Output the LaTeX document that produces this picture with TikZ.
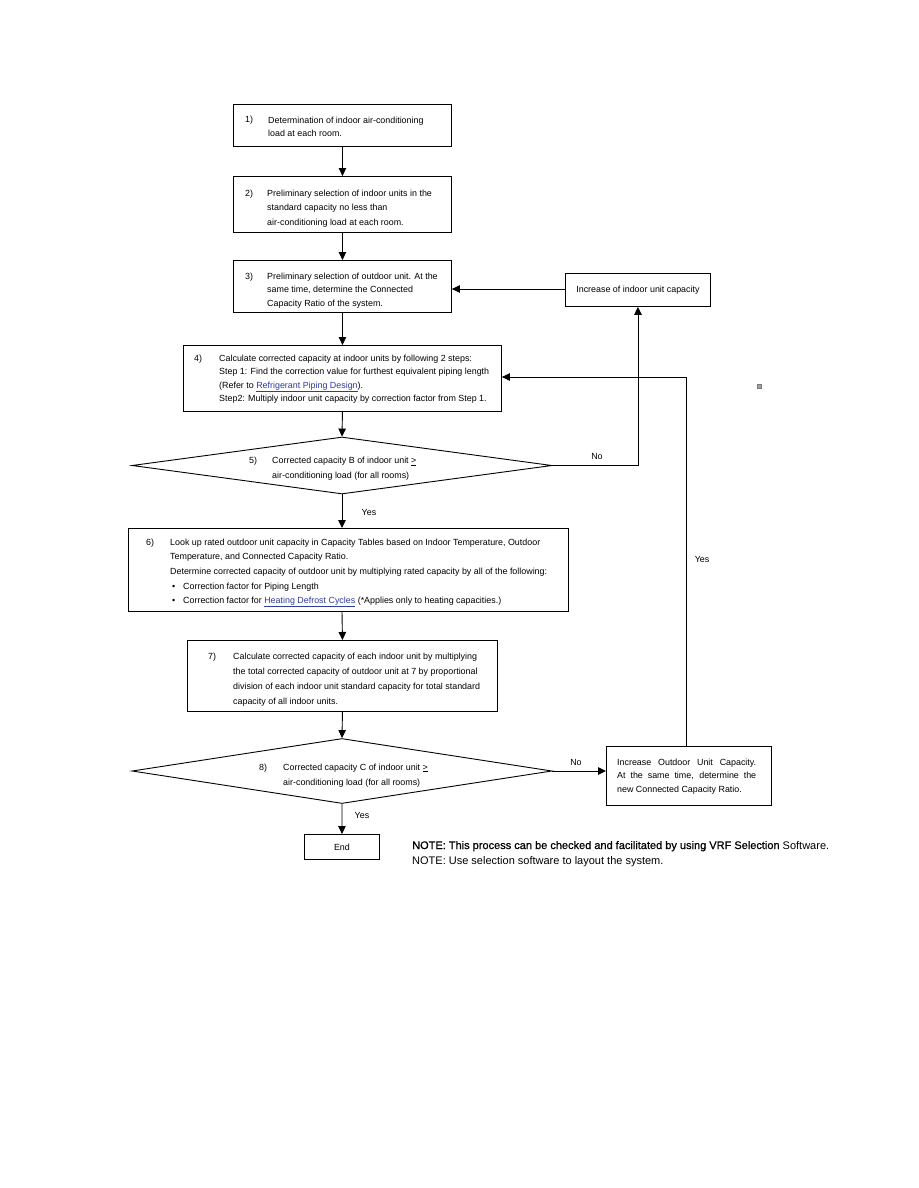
\documentclass[tikz,border=0pt]{standalone}
\usepackage{fontspec}
\setmainfont{Liberation Sans}
\newfontfamily\notebf[FakeBold=0.6]{Liberation Sans}
\usetikzlibrary{arrows.meta,shapes.geometric}
\definecolor{linkblue}{RGB}{45,60,160}
\definecolor{sqgray}{RGB}{120,120,130}
\newcommand{\lnk}[1]{\textcolor{linkblue}{\underline{#1}}}
\newcommand{\fs}[1]{\fontsize{8.9}{#1}\selectfont}
\begin{document}
\begin{tikzpicture}[x=1pt,y=-1pt,
  box/.style={draw,line width=0.9pt,inner sep=0,anchor=north west},
  txt/.style={anchor=base west,inner sep=0,align=left,font=\fs{14.5}},
  lbl/.style={inner sep=0,font=\fs{10}},
  arr/.style={line width=0.9pt,-{Triangle[length=8pt,width=7.5pt]}},
  dia/.style={draw,diamond,line width=0.9pt,inner sep=0}]
\fill[white] (0,0) rectangle (918,1188);
\useasboundingbox (0,0) rectangle (918,1188);

% boxes
\node[box,minimum width=218pt,minimum height=42pt] (b1) at (233,104) {};
\node[box,minimum width=218pt,minimum height=56pt] (b2) at (233,176) {};
\node[box,minimum width=218pt,minimum height=52pt] (b3) at (233,260) {};
\node[box,minimum width=145pt,minimum height=33pt] (inc) at (565,273) {};
\node[box,minimum width=318pt,minimum height=66pt] (b4) at (183,345) {};
\node[dia,minimum width=420pt,minimum height=57pt] (d5) at (342,465.5) {};
\node[box,minimum width=440pt,minimum height=83pt] (b6) at (128,528) {};
\node[box,minimum width=310pt,minimum height=71pt] (b7) at (187,640) {};
\node[dia,minimum width=420pt,minimum height=65pt] (d8) at (342,771) {};
\node[box,minimum width=165pt,minimum height=59pt] (ido) at (606,746) {};
\node[box,minimum width=75pt,minimum height=25pt] (end) at (304,834) {};
\node[draw=sqgray,fill=sqgray!70,line width=0.5pt,minimum size=4pt,inner sep=0] (sq) at (759,386) {};

% texts (base anchor = baseline of last line)
\node[txt] (n1) at (245,123) {1)};
\node[txt,font=\fs{13}] (t1) at (268,136) {Determination of indoor air-conditioning\\load at each room.};
\node[txt] (n2) at (245,196) {2)};
\node[txt,font=\fs{14.5}] (t2) at (267,225) {Preliminary selection of indoor units in the\\standard capacity no less than\\air-conditioning load at each room.};
\node[txt] (n3) at (245,279) {3)};
\node[txt,font=\fs{13.5}] (t3) at (267,306) {Preliminary selection of outdoor unit. At the\\same time, determine the Connected\\Capacity Ratio of the system.};
\node[lbl] (tinc) at (inc.center) {Increase of indoor unit capacity};
\node[txt] (n4) at (194,361) {4)};
\node[txt,font=\fs{13.5}] (t4) at (219,401.5) {Calculate corrected capacity at indoor units by following 2 steps:\\Step 1: Find the correction value for furthest equivalent piping length\\(Refer to \lnk{Refrigerant Piping Design}).\\Step2: Multiply indoor unit capacity by correction factor from Step 1.};
\node[txt] (n5) at (249,463.5) {5)};
\node[txt,font=\fs{14.5}] (t5) at (272,478) {Corrected capacity B of indoor unit \underline{>}\\air-conditioning load (for all rooms)};
\node[txt] (n6) at (146,545) {6)};
\node[txt,font=\fs{14.5}] (t6) at (170,574) {Look up rated outdoor unit capacity in Capacity Tables based on Indoor Temperature, Outdoor\\Temperature, and Connected Capacity Ratio.\\Determine corrected capacity of outdoor unit by multiplying rated capacity by all of the following:};
\node[txt] (bu1) at (172,589) {\textbullet};
\node[txt] (t6a) at (183,589) {Correction factor for Piping Length};
\node[txt] (bu2) at (172,603) {\textbullet};
\node[txt] (t6b) at (183,603) {Correction factor for \lnk{Heating Defrost Cycles} (*Applies only to heating capacities.)};
\node[txt] (n7) at (208,659) {7)};
\node[txt,font=\fs{15}] (t7) at (233,704) {Calculate corrected capacity of each indoor unit by multiplying\\the total corrected capacity of outdoor unit at 7 by proportional\\division of each indoor unit standard capacity for total standard\\capacity of all indoor units.};
\node[txt] (n8) at (259,770) {8)};
\node[txt,font=\fs{15}] (t8) at (283,785) {Corrected capacity C of indoor unit \underline{>}\\air-conditioning load (for all rooms)};
\node[txt,font=\fs{13.5}] (tido) at (617,792) {\makebox[139pt][s]{Increase Outdoor Unit Capacity.}\\\makebox[139pt][s]{At the same time, determine the}\\new Connected Capacity Ratio.};
\node[lbl] (tend) at (end.center) {End};

% labels
\node[lbl] (no5) at (597,456) {No};
\node[lbl] (yes5) at (369,512) {Yes};
\node[lbl] (yesr) at (702,559) {Yes};
\node[lbl] (no8) at (576,762) {No};
\node[lbl] (yes8) at (362,815) {Yes};

% notes
\node[anchor=base west,inner sep=0,font=\fontsize{11}{15}\selectfont] (note1) at (412,849) {{\notebf NOTE: This process can be checked and facilitated by using VRF Selection} Software.};
\node[anchor=base west,inner sep=0,font=\fontsize{11}{15}\selectfont] (note2) at (412,864) {NOTE: Use selection software to layout the system.};

% connectors
\draw[arr] (b1.south) -- (b2.north);
\draw[arr] (b2.south) -- (b3.north);
\draw[arr] (b3.south) -- (b4.north);
\draw[arr] (b4.south) -- (d5.north);
\draw[arr] (d5.south) -- (d5.south |- b6.north);
\draw[arr] (d5.south |- b6.south) -- (b7.north);
\draw[arr] (b7.south) -- (d8.north);
\draw[arr] (d8.south) -- (end.north);
\draw[arr] (d5.east) -| (inc.south);
\draw[arr] (inc.west |- 0,289) -- (b3.east |- 0,289);
\draw[arr] (d8.east) -- (d8.east -| ido.west);
\coordinate (yc) at (686,377);
\draw[arr] (ido.north -| yc) -- (yc) -- (yc -| b4.east);
\end{tikzpicture}
\end{document}
